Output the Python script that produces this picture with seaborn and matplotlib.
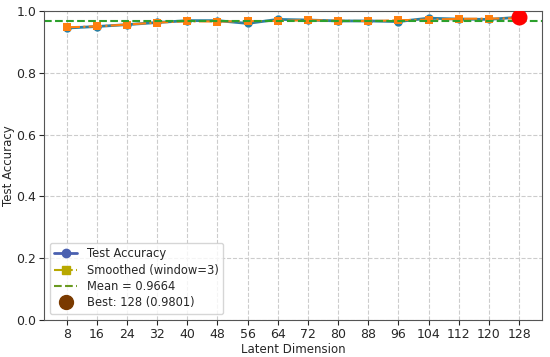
import numpy as np
import pandas as pd
import matplotlib
matplotlib.use("Agg")
import matplotlib.pyplot as plt
import seaborn as sns
from matplotlib.lines import Line2D

# ==========================================================
# DATA
# ==========================================================

latent_dims = [8, 16, 24, 32, 40, 48, 56, 64, 72, 80, 88, 96, 104, 112, 120, 128]

test_acc = [0.945, 0.950, 0.956, 0.963, 0.969, 0.969, 0.960, 0.973,
            0.971, 0.968, 0.968, 0.966, 0.977, 0.974, 0.973, 0.9801]

df = pd.DataFrame({"dim": latent_dims, "acc": test_acc})
df["smooth"] = df["acc"].rolling(3, center=True, min_periods=1).mean()

mean_acc = df["acc"].mean()
best_idx = df["acc"].idxmax()
best_dim = df.loc[best_idx, "dim"]
best_acc = df.loc[best_idx, "acc"]

# ==========================================================
# PLOT
# ==========================================================

sns.set_style("ticks")
plt.rcParams["font.family"] = ["DejaVu Sans"]

fig, ax = plt.subplots(figsize=(5.5, 3.57), dpi=100)
fig.subplots_adjust(left=0.08, right=0.985, top=0.969, bottom=0.104)

sns.lineplot(data=df, x="dim", y="acc", ax=ax, color="#2a7fa3",
             marker="o", markersize=6, linewidth=2, markeredgewidth=0)
sns.lineplot(data=df, x="dim", y="smooth", ax=ax, color="#ff7f0e",
             marker="s", markersize=6, linewidth=1.5, linestyle="-.",
             markeredgewidth=0)
ax.axhline(mean_acc, color="#2ca02c", linestyle="--", linewidth=1.5)
ax.scatter([best_dim], [best_acc], s=110, color="red", zorder=5)

ax.set_ylim(0, 1.0)
ax.set_xlim(2, 134)
ax.set_xticks(latent_dims)
ax.set_xlabel("Latent Dimension", fontsize=8.5, labelpad=2)
ax.set_ylabel("Test Accuracy", fontsize=8.5, labelpad=1)
ax.tick_params(labelsize=9, pad=2, length=3.5)
ax.grid(True, linestyle="--", color="#cccccc", linewidth=0.8)
for s in ax.spines.values():
    s.set_color("#555555")

handles = [
    Line2D([], [], color="#4a60b0", marker="o", linewidth=2, markersize=6),
    Line2D([], [], color="#b8a800", marker="s", linestyle="-.", linewidth=1.5, markersize=6),
    Line2D([], [], color="#6a9a20", linestyle="--", linewidth=1.5),
    Line2D([], [], color="#7a3a00", marker="o", linestyle="None", markersize=10),
]
labels = [
    "Test Accuracy",
    "Smoothed (window=3)",
    f"Mean = {mean_acc:.4f}",
    f"Best: {best_dim} ({best_acc:.4f})",
]
ax.legend(handles, labels, loc="lower left", fontsize=8.3, frameon=True,
          labelspacing=0.3, borderpad=0.4, handlelength=2.0)

plt.savefig("out.png", dpi=100)
